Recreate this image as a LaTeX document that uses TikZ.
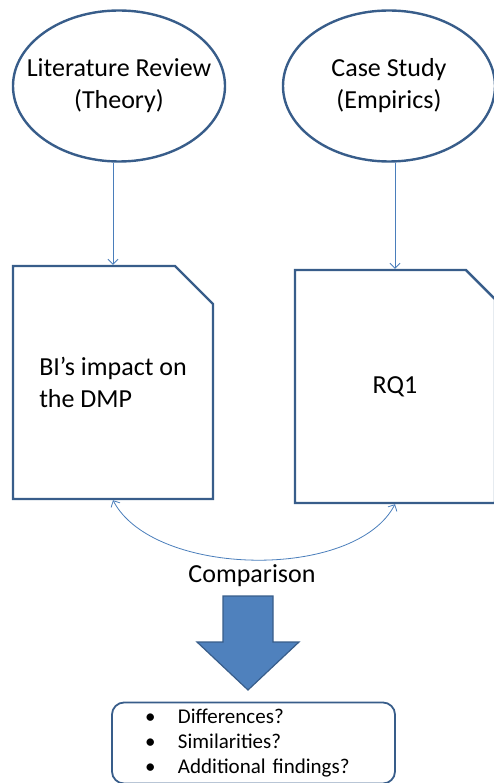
\documentclass[tikz,border=0pt]{standalone}
\usepackage{fontspec}
\setmainfont{Carlito}
\usetikzlibrary{arrows.meta,positioning,shapes.geometric,shapes.misc}
\definecolor{edgeblue}{HTML}{385D8A}
\definecolor{linkblue}{HTML}{4A7EBB}
\definecolor{fillblue}{HTML}{4F81BD}
\newcommand\diagfont{\fontsize{26}{31.7}\selectfont}
\newcommand\listfont{\fontsize{21}{25}\selectfont}
\newcommand\ovaltext[1]{\makebox[0pt]{\begin{tabular}{@{}c@{}}#1\end{tabular}}}
\tikzset{
  source/.style  = {ellipse, draw=edgeblue, line width=2.4pt, inner sep=0pt,
                    minimum width=212pt, minimum height=151pt,
                    font=\diagfont},
  sheet/.style   = {chamfered rectangle, chamfered rectangle corners=north east,
                    chamfered rectangle xsep=19pt, chamfered rectangle ysep=19pt,
                    draw=edgeblue, line width=2.4pt, inner sep=0pt,
                    minimum width=200pt, minimum height=233pt, font=\diagfont},
  findbox/.style = {draw=edgeblue, line width=1.8pt, rounded corners=12pt,
                    inner xsep=33pt, inner ysep=0pt, text width=217pt,
                    minimum height=81pt, align=left, font=\listfont},
  link/.style    = {linkblue, line width=0.8pt},
  barb/.tip      = {Straight Barb[length=5pt,width=10pt]},
}

\begin{document}
\begin{tikzpicture}[x=1pt,y=-1pt]
  \useasboundingbox (0,0) rectangle (494,783);
  \node[source] (litrev) at (119,86) {\ovaltext{Literature Review\\(Theory)}};
  \node[source] (casestudy) at (389,86) {\ovaltext{Case Study\\(Empirics)}};
  \node[sheet,align=left] (bi) at (113,382.5) {BI's impact on\\the DMP};
  \node[sheet] (rq) at (395,386.5) {RQ1};
  \draw[link,-barb] (bi.north |- litrev.south) -- (bi.north);
  \draw[link,-barb] (rq.north |- casestudy.south) -- (rq.north);
  \draw[link,barb-barb] (bi.south) .. controls +(40,77) and +(-40,77) .. (rq.south);
  \node[font=\diagfont] (compare) at (252,576) {Comparison};
  % block arrow
  \filldraw[fill=fillblue,draw=edgeblue,line width=1.2pt]
    (223,596) -- (273,596) -- (273,642) -- (299,642) -- (248,690)
    -- (197,642) -- (223,642) -- cycle;
  \node[findbox] (findings) at (253.5,743)
    {\makebox[33pt][l]{\textbullet}Differences?\\
     \makebox[33pt][l]{\textbullet}Similarities?\\
     \makebox[33pt][l]{\textbullet}Additional findings?};
\end{tikzpicture}
\end{document}
